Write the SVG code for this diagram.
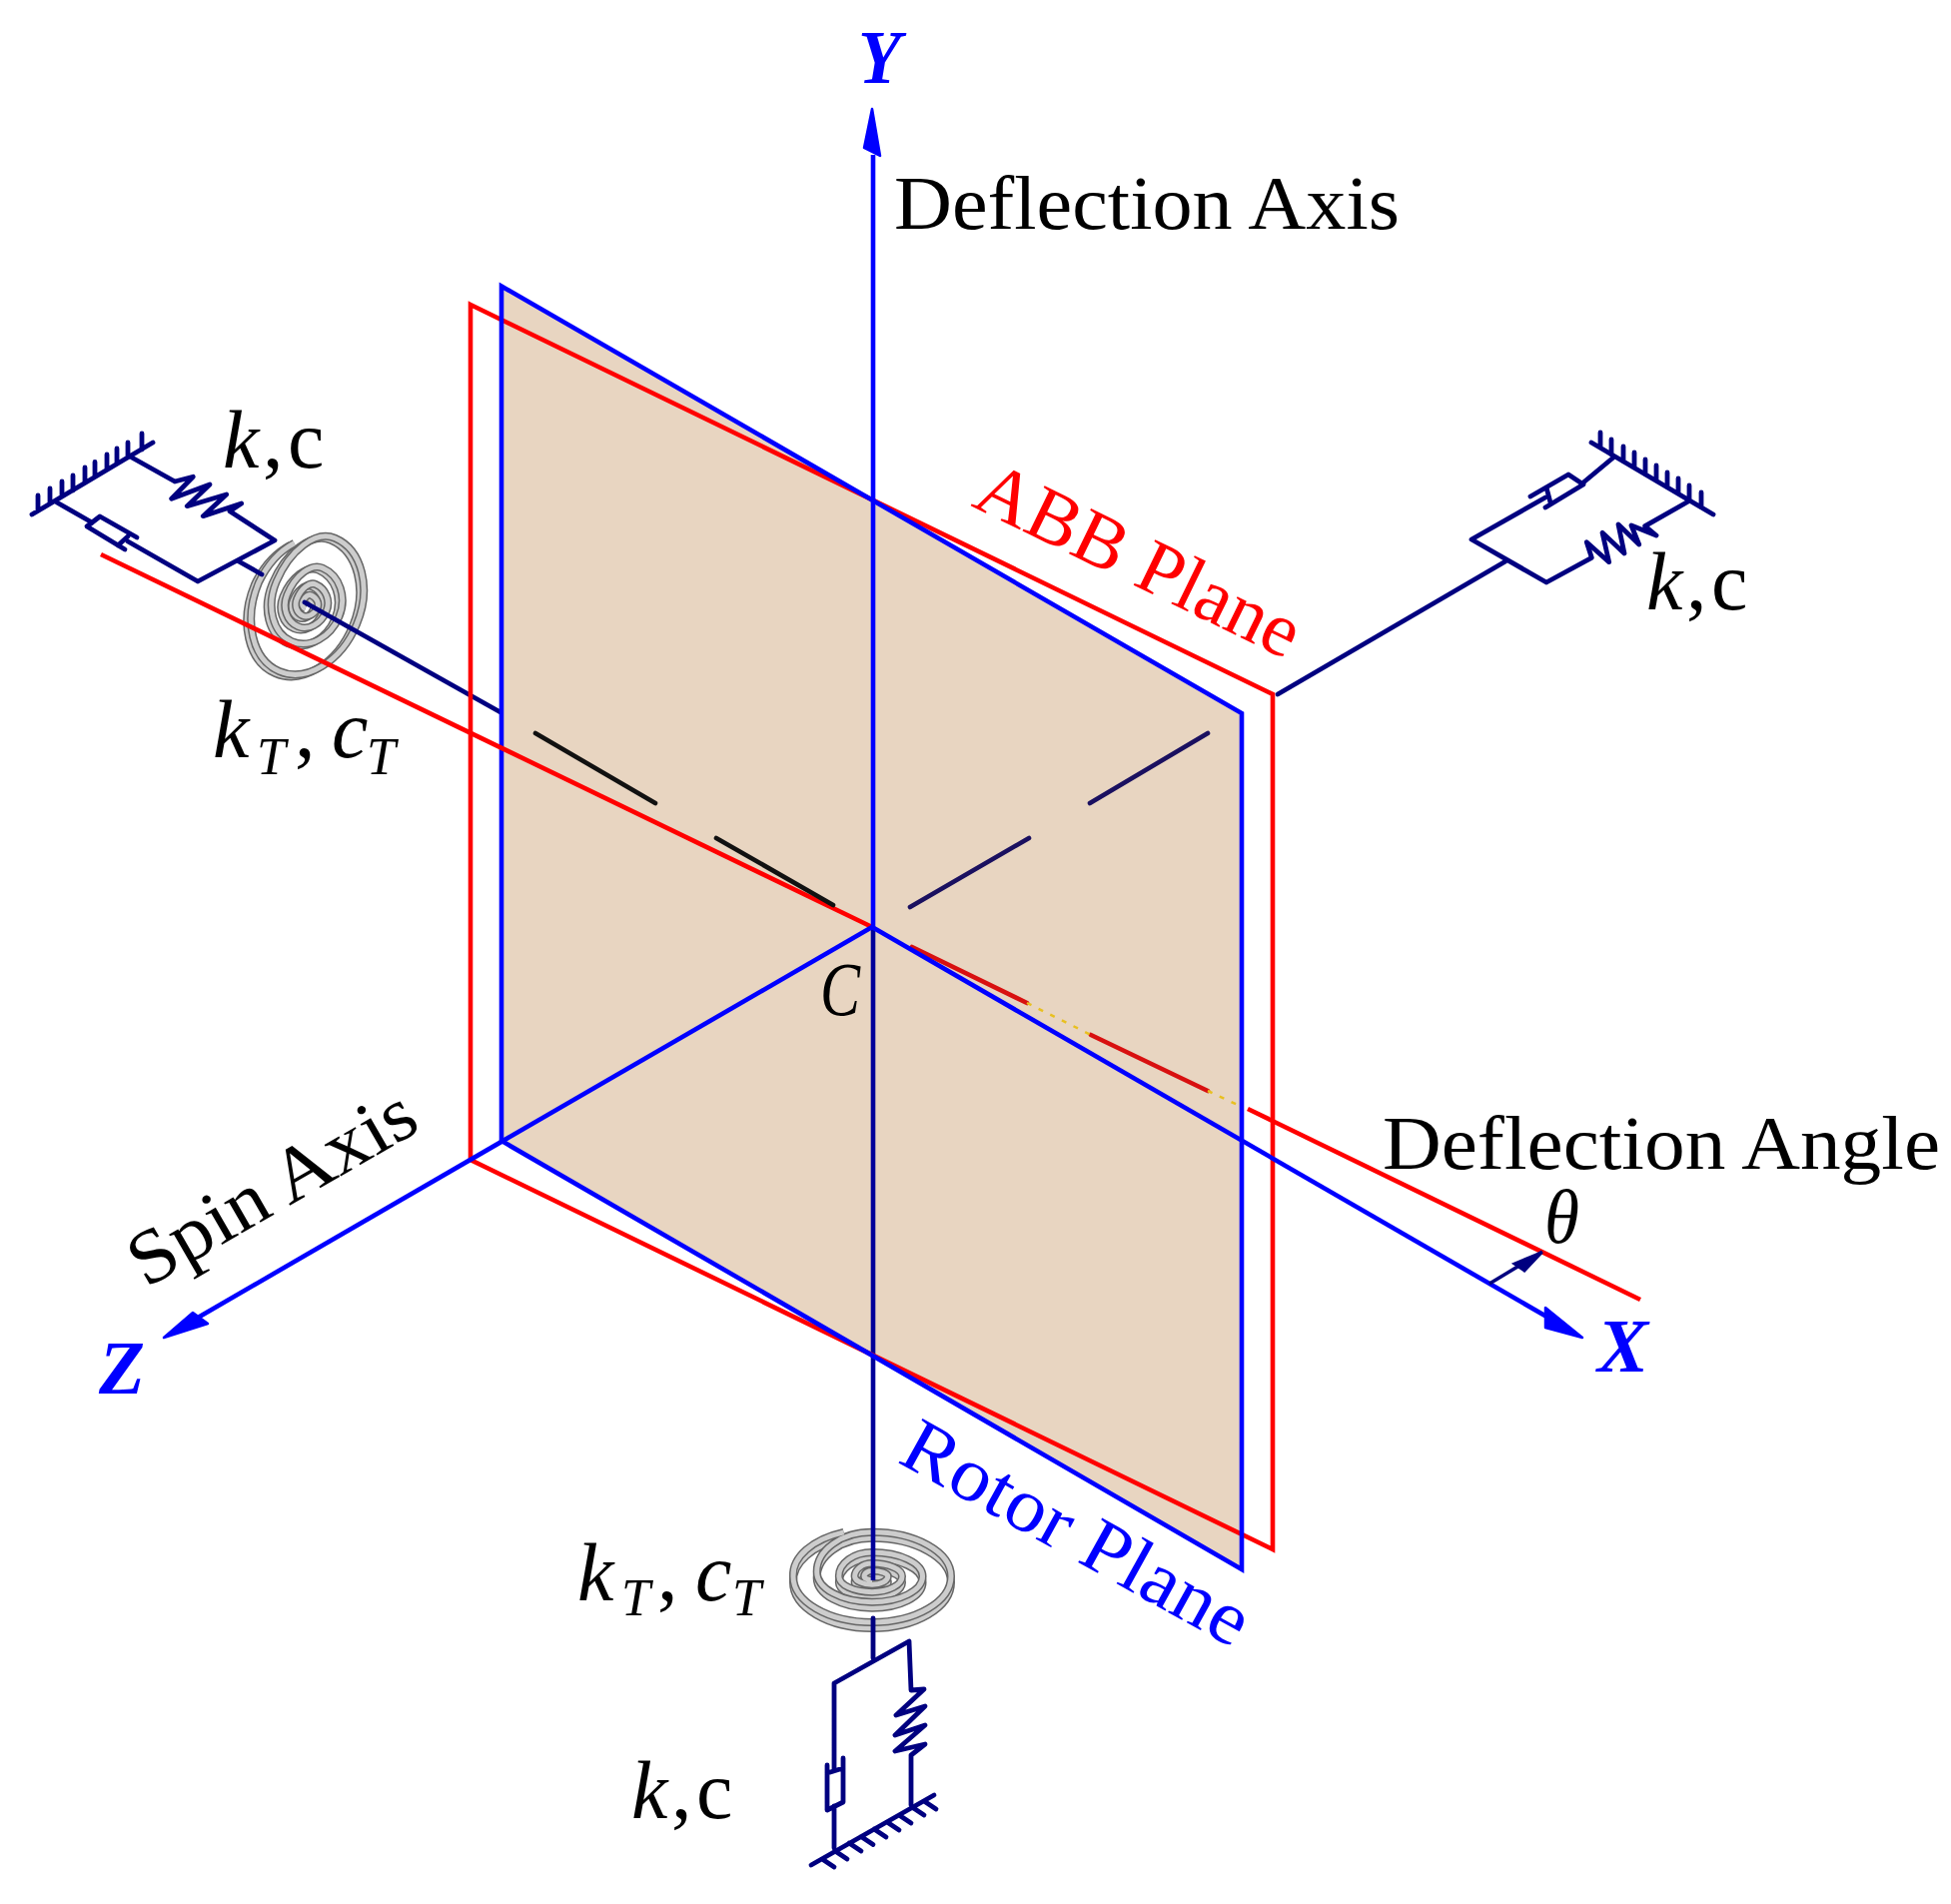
<svg xmlns="http://www.w3.org/2000/svg" xmlns:xlink="http://www.w3.org/1999/xlink" width="1953" height="1906" viewBox="0 0 1953 1906">
<style>
.b{fill:none;stroke:#0000ff;stroke-width:4.6}
.r{fill:none;stroke:#ff0000;stroke-width:4.6}
.n{fill:none;stroke:#000080;stroke-width:4.8;stroke-linejoin:round;stroke-linecap:round}
.th{fill:none;stroke:#000080;stroke-width:3.5}
.k{fill:none;stroke:#111;stroke-width:4.6;stroke-linecap:round}
.d{fill:none;stroke:#1a1060;stroke-width:4.6;stroke-linecap:round}
.rd{fill:none;stroke:#d81010;stroke-width:4.6;stroke-linecap:round}
.y{fill:none;stroke:#e8c020;stroke-width:2.5;stroke-dasharray:5 8}
.ah{fill:#0000ff;stroke:#0000ff;stroke-width:2.5;stroke-linejoin:round}
.sp{fill:none;vector-effect:non-scaling-stroke;stroke-linejoin:round}
.s1{fill:none;stroke:#666;stroke-width:8}
.s2{fill:none;stroke:#cdcdcd;stroke-width:5}
text{font-family:"Liberation Serif",serif;fill:#000}
.lab{font-size:77px}
.ax{font-size:77px;font-weight:bold;font-style:italic;fill:#0000ff}
.m{font-size:82px}
.i{font-style:italic}
.sub{font-size:52px;font-style:italic}
</style>
<defs>
<path id="spB" class="sp" d="M-36-96A100 100 0 0 0-100 0A100 100 0 0 0 0 100A100 100 0 0 0 100 0A100 96 0 0 0 0-96A70 86 0 0 0-70-10A70 66 0 0 0 0 56A64 56 0 0 0 64 0A64 52 0 0 0 0-52A42 52 0 0 0-42 0A42 34 0 0 0 0 34A38 34 0 0 0 38 0A38 28 0 0 0 0-28A22 28 0 0 0-22 0A22 18 0 0 0 0 18A20 18 0 0 0 20 0A20 12 0 0 0 0-12A10 12 0 0 0-10 0A10 8 0 0 0 0 8"/>
<path id="spL" class="sp" d="M-67-68A100 100 0 0 0-100 0A100 100 0 0 0 0 100A100 100 0 0 0 100 0A100 96 0 0 0 0-96A70 86 0 0 0-70-10A70 66 0 0 0 0 56A64 56 0 0 0 64 0A64 52 0 0 0 0-52A42 52 0 0 0-42 0A42 34 0 0 0 0 34A38 34 0 0 0 38 0A38 28 0 0 0 0-28A22 28 0 0 0-22 0A22 18 0 0 0 0 18A20 18 0 0 0 20 0A20 12 0 0 0 0-12A10 12 0 0 0-10 0A10 8 0 0 0 0 8"/>
</defs>
<rect width="1953" height="1906" fill="#fff"/>

<g id="rotor-plane">
<polygon points="502,286.5 1243,714 1243,1571 502,1142" fill="#e8d5c1"/>
</g>

<g id="spring-left">
<use href="#spL" class="s1" transform="matrix(.49 .21 -.285 .68 304 606)"/>
<use href="#spL" class="s2" transform="matrix(.49 .21 -.285 .68 304 606)"/>
<use href="#spL" class="s1" transform="matrix(.49 .21 -.285 .68 308 604)"/>
<use href="#spL" class="s2" transform="matrix(.49 .21 -.285 .68 308 604)"/>
</g>
<g id="spring-bottom">
<use href="#spB" class="s1" transform="matrix(.79 0 0 .46 873 1584)"/>
<use href="#spB" class="s2" transform="matrix(.79 0 0 .46 873 1584)"/>
<use href="#spB" class="s1" transform="matrix(.79 0 0 .46 873 1578)"/>
<use href="#spB" class="s2" transform="matrix(.79 0 0 .46 873 1578)"/>
</g>

<g id="connectors">
<path class="n" d="M239,562L262,575M305,603L501,713"/>
<path class="n" d="M1279,695L1507,562"/>
<path class="n" d="M874,1620V1660"/>
<path d="M874,928V1582" fill="none" stroke="#00009a" stroke-width="4.6"/>
<path class="r" d="M471,305L1274,695V1551L471,1161Z"/>
<path class="b" d="M502,286.5L1243,714V1571L502,1142Z"/>
<path class="r" d="M101,555L873,928"/>
<path class="k" d="M536,734L656,804M717,839L834,906"/>
<path class="d" d="M1209,734L1091,804M1030,839L911,908"/>
<path class="rd" d="M913,948L1028,1004M1092,1036L1209,1092"/>
<path class="y" d="M1028,1004L1092,1036M1209,1092L1243,1108"/>
<path class="r" d="M1249,1110L1642,1301"/>
<path class="b" d="M874,155V928"/>
<path class="b" d="M873,928L1550,1319"/>
<path class="b" d="M873,928L198,1319"/>
<polygon class="ah" points="873,109 865,148 881,156"/>
<polygon class="ah" points="1584,1339 1547,1309 1547,1329"/>
<polygon class="ah" points="164,1339 193,1314 208,1325"/>
<path class="th" d="M1491,1285L1544,1253"/>
<polygon points="1543,1254 1516,1265 1526,1272" fill="#000080" stroke="#000080" stroke-width="3"/>
</g>

<g id="damper-spring-left">
<path class="n" d="M32,515L153,443M38,511v-15M50,504v-15M62,497v-15M73,491v-15M85,483v-15M95,477.5v-15M107,470v-15M117,464v-15M128,458v-15M142,450v-16"/>
<path class="n" d="M132,458L175,482L193.3,477.3L171.7,499.3L210,485L187.3,506.7L226.7,495L203.3,516.7L241.7,504L230,511.7L275,541L198,582L128,542"/>
<path class="n" d="M57,503L92,523"/>
<path class="n" d="M137,538L100,517L87,527L125,550M128,537L118,546"/>
</g>

<g id="damper-spring-right">
<path class="n" d="M1593,443L1715,515M1602,448v-15M1613,455v-15M1625,462v-15M1636,468v-15M1647,475v-15M1658,481v-15M1669,488v-15M1680,494v-15M1691,501v-15M1703,508v-15"/>
<path class="n" d="M1690,502L1646.7,526.7L1658,536L1633,526L1640.7,545L1620,525L1626,554L1604,533.3L1610.7,562.7L1588.3,542.7L1593.3,558.3L1548,583L1473,540L1547,498"/>
<path class="n" d="M1585,483L1615,458"/>
<path class="n" d="M1532,497L1570,475L1585,485L1547,508M1548,488L1552,503"/>
</g>

<g id="damper-spring-bottom">
<path class="n" d="M812,1867L935,1797M823,1861l12,8M836,1853l12,8M850,1845l12,8M862,1838.5l12,8M875,1831l12,8M888,1824l12,8M900,1817l12,8M913,1809l12,8M925,1803l12,8"/>
<path class="n" d="M835,1771V1685L910,1643L912,1692L925,1691L897,1717L926,1708L896,1737L926,1727L896,1753L926,1746L912,1757V1807"/>
<path class="n" d="M828,1767V1812L844,1804V1760M828,1775L844,1770M835,1808V1850"/>
</g>

<g id="label-y"><text class="ax" x="859" y="83" textLength="43" lengthAdjust="spacingAndGlyphs">Y</text></g>
<g id="label-x"><text class="ax" x="1599" y="1373" textLength="51" lengthAdjust="spacingAndGlyphs">X</text></g>
<g id="label-z"><text class="ax" x="99" y="1395" textLength="46" lengthAdjust="spacingAndGlyphs">Z</text></g>
<g id="label-deflection-axis"><text class="lab" x="895" y="229" textLength="506" lengthAdjust="spacingAndGlyphs">Deflection Axis</text></g>
<g id="label-deflection-angle"><text class="lab" x="1384" y="1170" textLength="558" lengthAdjust="spacingAndGlyphs">Deflection Angle</text></g>
<g id="label-spin-axis"><text class="lab" transform="translate(146 1290) rotate(-30)" textLength="320" lengthAdjust="spacingAndGlyphs">Spin Axis</text></g>
<g id="label-abb-plane"><text class="lab" transform="translate(971 506) rotate(26)" textLength="352" lengthAdjust="spacingAndGlyphs" style="fill:#ff0000">ABB Plane</text></g>
<g id="label-rotor-plane"><text class="lab" transform="translate(897 1463) rotate(29)" textLength="386" lengthAdjust="spacingAndGlyphs" style="fill:#0000ff">Rotor Plane</text></g>
<g id="label-c"><text class="lab i" x="821" y="1016" textLength="40" lengthAdjust="spacingAndGlyphs">C</text></g>
<g id="label-theta"><text class="lab i" x="1546" y="1244" textLength="35" lengthAdjust="spacingAndGlyphs">θ</text></g>
<g id="label-kc-left"><text class="m" y="468"><tspan class="i" x="223">k</tspan><tspan x="263">,</tspan><tspan x="288">c</tspan></text></g>
<g id="label-kc-right"><text class="m" y="610"><tspan class="i" x="1648">k</tspan><tspan x="1688">,</tspan><tspan x="1713">c</tspan></text></g>
<g id="label-kc-bottom"><text class="m" y="1820"><tspan class="i" x="632">k</tspan><tspan x="672">,</tspan><tspan x="697">c</tspan></text></g>
<g id="label-ktct-left"><text class="m" y="758"><tspan class="i" x="213">k</tspan><tspan class="sub" x="257" y="775">T</tspan><tspan x="295" y="758">,</tspan><tspan class="i" x="332" y="758">c</tspan><tspan class="sub" x="367" y="775">T</tspan></text></g>
<g id="label-ktct-bottom"><text class="m" y="1602"><tspan class="i" x="578">k</tspan><tspan class="sub" x="622" y="1617">T</tspan><tspan x="658" y="1602">,</tspan><tspan class="i" x="696" y="1602">c</tspan><tspan class="sub" x="733" y="1617">T</tspan></text></g>
</svg>
